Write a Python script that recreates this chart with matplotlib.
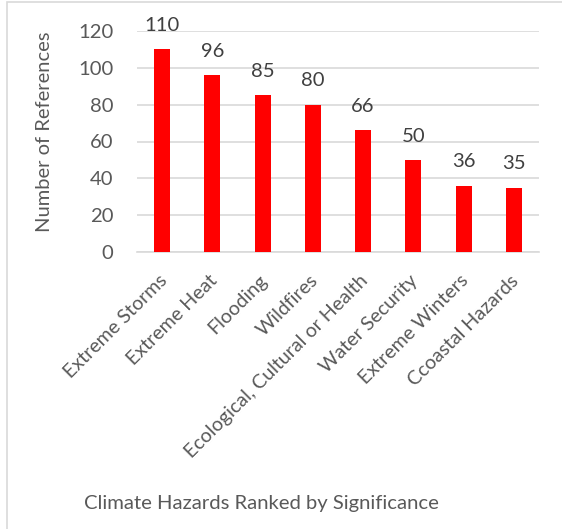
import matplotlib
matplotlib.use("Agg")
import matplotlib.pyplot as plt
import matplotlib.transforms as mtransforms
from matplotlib.patches import Rectangle

categories = ["Extreme Storms", "Extreme Heat", "Flooding", "Wildfires",
              "Ecological, Cultural or Health", "Water Security",
              "Extreme Winters", "Ccoastal Hazards"]
references = [110, 96, 85, 80, 66, 50, 36, 35]
y_ticks = [0, 20, 40, 60, 80, 100, 120]

W, H = 562, 529
DPI = 100
plt.rcParams["font.family"] = ["Lato", "DejaVu Sans"]
text_color = "#595959"
grid_color = "#d9d9d9"

fig = plt.figure(figsize=(W / DPI, H / DPI), dpi=DPI)
fig.patch.set_facecolor("white")

# chart-area border
fig.patches.append(Rectangle((7 / W, -0.1), 1.2, 1 - 2 / H + 0.1,
                             transform=fig.transFigure, fill=False,
                             edgecolor=grid_color, linewidth=1.2))

left, right = 137 / W, 539 / W
bottom, top = 1 - 252 / H, 1 - 31 / H
ax = fig.add_axes([left, bottom, right - left, top - bottom])

x = range(len(categories))
ax.bar(x, references, width=0.32, color="#ff0000", zorder=3)
for xi, v in zip(x, references):
    ax.annotate(str(v), (xi, v), xytext=(0, 11), textcoords="offset points",
                ha="center", va="bottom", fontsize=14.6, color="#404040")

ax.set_xlim(-0.5, len(categories) - 0.5)
ax.set_ylim(0, 120)
ax.set_yticks(y_ticks)
ax.tick_params(axis="y", length=0, pad=17, labelsize=14.6, labelcolor=text_color)
ax.yaxis.grid(True, color=grid_color, linewidth=1.2, zorder=0)
ax.set_axisbelow(True)

ax.set_xticks(list(x))
ax.set_xticklabels(categories, rotation=45, ha="right", rotation_mode="anchor",
                   fontsize=14.1, color=text_color)
ax.tick_params(axis="x", length=0, pad=13)
shift = mtransforms.ScaledTranslation(-4 / DPI, -2 / DPI, fig.dpi_scale_trans)
for lbl in ax.get_xticklabels():
    lbl.set_transform(lbl.get_transform() + shift)

for s in ["left", "right", "top"]:
    ax.spines[s].set_visible(False)
ax.spines["bottom"].set_color(grid_color)
ax.spines["bottom"].set_linewidth(1.2)

fig.text(45 / W, 1 - 132 / H, "Number of References", rotation=90,
         ha="center", va="center", fontsize=14.5, color=text_color)
fig.text(261 / W, 1 - 503 / H, "Climate Hazards Ranked by Significance",
         ha="center", va="center", fontsize=14.6, color=text_color)

fig.savefig("out.png", dpi=DPI)
